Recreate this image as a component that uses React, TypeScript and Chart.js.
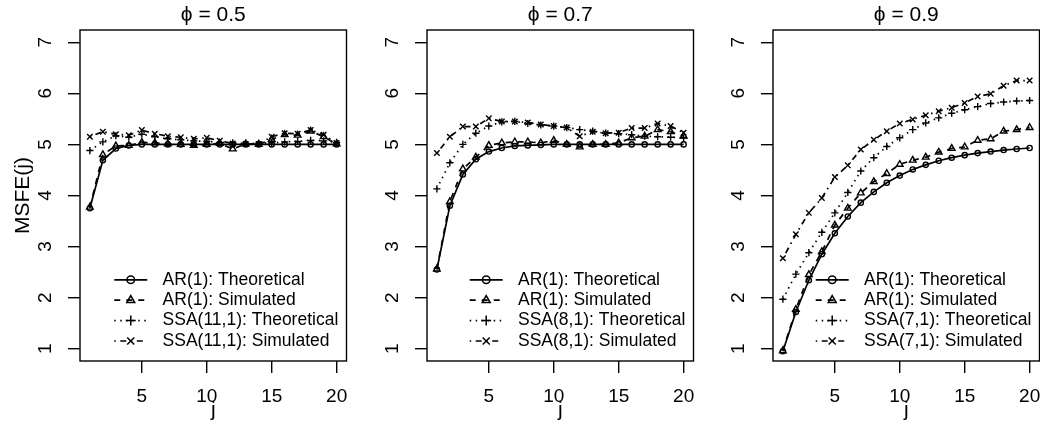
import React, { useEffect, useRef } from "react";
import { Chart, registerables } from "chart.js";

Chart.register(...registerables);

// ---------- data ----------
const J = [1, 2, 3, 4, 5, 6, 7, 8, 9, 10, 11, 12, 13, 14, 15, 16, 17, 18, 19, 20];
const X_TICKS = [5, 10, 15, 20];
const Y_TICKS = [1, 2, 3, 4, 5, 6, 7];
const TITLES = ["ϕ = 0.5", "ϕ = 0.7", "ϕ = 0.9"];
const Y_TITLE = "MSFE(j)";
const X_TITLE = "j";

const LEGEND_05 = ["AR(1): Theoretical", "AR(1): Simulated", "SSA(11,1): Theoretical", "SSA(11,1): Simulated"];
const LEGEND_07 = ["AR(1): Theoretical", "AR(1): Simulated", "SSA(8,1): Theoretical", "SSA(8,1): Simulated"];
const LEGEND_09 = ["AR(1): Theoretical", "AR(1): Simulated", "SSA(7,1): Theoretical", "SSA(7,1): Simulated"];

// phi = 0.5
const AR_THEO_05 = [3.75, 4.69, 4.92, 4.98, 5.0, 5.0, 5.0, 5.0, 5.0, 5.0, 5.0, 5.0, 5.0, 5.0, 5.0, 5.0, 5.0, 5.0, 5.0, 5.0];
const AR_SIM_05 = [3.77, 4.8, 4.97, 4.98, 5.04, 5.03, 5.01, 5.0, 4.98, 5.0, 5.02, 4.91, 5.01, 5.0, 5.1, 5.19, 5.18, 5.26, 5.15, 5.01];
const SSA_THEO_05 = [4.88, 5.05, 5.17, 5.14, 5.2, 5.15, 5.11, 5.09, 5.07, 5.06, 5.04, 5.03, 5.02, 5.02, 5.03, 5.05, 5.06, 5.08, 5.07, 5.04];
const SSA_SIM_05 = [5.15, 5.25, 5.2, 5.18, 5.28, 5.21, 5.16, 5.14, 5.11, 5.13, 5.07, 5.02, 5.01, 5.01, 5.15, 5.22, 5.21, 5.28, 5.19, 5.03];

// phi = 0.7
const AR_THEO_07 = [2.55, 3.8, 4.41, 4.71, 4.86, 4.93, 4.97, 4.98, 4.99, 5.0, 5.0, 5.0, 5.0, 5.0, 5.0, 5.0, 5.0, 5.0, 5.0, 5.0];
const AR_SIM_07 = [2.56, 3.88, 4.52, 4.75, 4.98, 5.03, 5.05, 5.05, 5.03, 5.08, 5.0, 4.95, 5.0, 5.0, 5.03, 5.13, 5.16, 5.29, 5.25, 5.16];
const SSA_THEO_07 = [4.13, 4.64, 5.0, 5.22, 5.36, 5.44, 5.45, 5.41, 5.38, 5.36, 5.33, 5.29, 5.26, 5.22, 5.21, 5.19, 5.16, 5.15, 5.14, 5.13];
const SSA_SIM_07 = [4.83, 5.15, 5.35, 5.35, 5.51, 5.45, 5.45, 5.43, 5.39, 5.36, 5.33, 5.16, 5.25, 5.22, 5.23, 5.32, 5.32, 5.41, 5.36, 5.23];

// phi = 0.9
const AR_THEO_09 = [0.95, 1.72, 2.34, 2.85, 3.26, 3.59, 3.86, 4.07, 4.25, 4.39, 4.51, 4.6, 4.68, 4.74, 4.79, 4.83, 4.86, 4.89, 4.91, 4.93];
const AR_SIM_09 = [0.96, 1.77, 2.45, 2.9, 3.42, 3.75, 4.05, 4.27, 4.43, 4.61, 4.69, 4.75, 4.85, 4.92, 4.95, 5.08, 5.11, 5.26, 5.29, 5.33];
const SSA_THEO_09 = [1.97, 2.46, 2.88, 3.28, 3.66, 4.06, 4.48, 4.74, 4.96, 5.13, 5.29, 5.42, 5.52, 5.61, 5.68, 5.74, 5.8, 5.83, 5.85, 5.86];
const SSA_SIM_09 = [2.77, 3.24, 3.66, 3.95, 4.36, 4.59, 4.9, 5.09, 5.26, 5.41, 5.49, 5.57, 5.65, 5.72, 5.81, 5.94, 5.99, 6.15, 6.25, 6.25];

// ---------- styles ----------
const FONT = "'Liberation Sans', Arial, Helvetica, sans-serif";
const AXIS_FONT_SIZE = 19;
const LAB_FONT_SIZE = 21;
const TITLE_FONT_SIZE = 21;
const LEGEND_FONT_SIZE = 17.5;
const FRAME_W = 1.4;
const LINE_W = 1.7;

const SERIES_STYLE = [
  { dash: [] as number[], point: "circle", radius: 2.6, legendRadius: 3.8 },
  { dash: [6, 6], point: "triangle", radius: 3.8, legendRadius: 4.6 },
  { dash: [1.5, 4.5], point: "cross", radius: 3.6, legendRadius: 5 },
  { dash: [1.5, 4.5, 6, 4.5], point: "crossRot", radius: 3.9, legendRadius: 5 },
];

function drawMarker(ctx: CanvasRenderingContext2D, style: string, r: number, x: number, y: number) {
  ctx.beginPath();
  if (style === "circle") {
    ctx.arc(x, y, r, 0, Math.PI * 2);
    ctx.closePath();
  } else if (style === "triangle") {
    let rad = 0;
    ctx.moveTo(x + Math.sin(rad) * r, y - Math.cos(rad) * r);
    rad += (2 * Math.PI) / 3;
    ctx.lineTo(x + Math.sin(rad) * r, y - Math.cos(rad) * r);
    rad += (2 * Math.PI) / 3;
    ctx.lineTo(x + Math.sin(rad) * r, y - Math.cos(rad) * r);
    ctx.closePath();
  } else if (style === "cross") {
    ctx.moveTo(x, y - r);
    ctx.lineTo(x, y + r);
    ctx.moveTo(x - r, y);
    ctx.lineTo(x + r, y);
  } else {
    const o = Math.cos(Math.PI / 4) * r;
    ctx.moveTo(x - o, y - o);
    ctx.lineTo(x + o, y + o);
    ctx.moveTo(x + o, y - o);
    ctx.lineTo(x - o, y + o);
  }
  ctx.stroke();
}

type PanelProps = {
  left: number;
  title: string;
  series: number[][];
  legend: string[];
  showYTitle: boolean;
};

function Panel({ left, title, series, legend, showYTitle }: PanelProps) {
  const ref = useRef<HTMLCanvasElement | null>(null);

  useEffect(() => {
    const canvas = ref.current;
    if (!canvas) return;

    const decor = {
      id: "rDecor",
      afterDraw(chart: any) {
        const { ctx, chartArea: a } = chart;
        ctx.save();
        // frame
        ctx.strokeStyle = "#000";
        ctx.lineWidth = FRAME_W;
        ctx.setLineDash([]);
        ctx.strokeRect(a.left, a.top, a.right - a.left, a.bottom - a.top);

        // rotated y tick labels
        const ys = chart.scales.y;
        ctx.fillStyle = "#000";
        ctx.font = `${AXIS_FONT_SIZE}px ${FONT}`;
        ctx.textAlign = "center";
        ctx.textBaseline = "middle";
        ys.ticks.forEach((t: any) => {
          const py = ys.getPixelForValue(t.value);
          ctx.save();
          ctx.translate(a.left - 34, py);
          ctx.rotate(-Math.PI / 2);
          ctx.fillText(String(t.value), 0, 0);
          ctx.restore();
        });

        // legend (bottom right, no box)
        ctx.font = `${LEGEND_FONT_SIZE}px ${FONT}`;
        ctx.textAlign = "left";
        const maxW = Math.max(...legend.map((l) => ctx.measureText(l).width));
        const textX = a.right - 8.2 - maxW;
        const x0 = textX - 48.3;
        const x1 = textX - 15.3;
        const mx = textX - 31.8;
        legend.forEach((lab, k) => {
          const y = a.bottom - 20 - 20.4 * (legend.length - 1 - k);
          const st = SERIES_STYLE[k];
          ctx.lineWidth = LINE_W;
          ctx.setLineDash(st.dash);
          ctx.beginPath();
          ctx.moveTo(x0, y);
          ctx.lineTo(x1, y);
          ctx.stroke();
          ctx.setLineDash([]);
          ctx.lineWidth = 1.5;
          drawMarker(ctx, st.point, st.legendRadius, mx, y);
          ctx.fillText(lab, textX, y);
        });
        ctx.restore();
      },
    };

    const axisFont = { family: FONT, size: AXIS_FONT_SIZE, weight: "normal" as const, lineHeight: 1.2 };
    const labFont = { family: FONT, size: LAB_FONT_SIZE, weight: "normal" as const, lineHeight: 1.2 };
    const titleFont = { family: FONT, size: TITLE_FONT_SIZE, weight: "normal" as const, lineHeight: 1.2 };

    const chart = new Chart(canvas, {
      type: "line",
      data: {
        datasets: series.map((vals, k) => ({
          data: J.map((j, i) => ({ x: j, y: vals[i] })),
          borderColor: "#000",
          borderWidth: LINE_W,
          borderDash: SERIES_STYLE[k].dash,
          pointStyle: SERIES_STYLE[k].point as any,
          pointRadius: SERIES_STYLE[k].radius,
          pointBorderWidth: 1.4,
          pointBorderColor: "#000",
          pointBackgroundColor: "rgba(0,0,0,0)",
          fill: false,
          tension: 0,
        })),
      },
      options: {
        animation: false,
        responsive: false,
        devicePixelRatio: 1,
        layout: { padding: { left: 0, right: 20.5, top: 0, bottom: 0 } },
        plugins: {
          legend: { display: false },
          tooltip: { enabled: false },
          title: {
            display: true,
            text: title,
            fullSize: false,
            color: "#000",
            font: titleFont,
            padding: { top: 2.4, bottom: 2.4 },
          },
        },
        scales: {
          x: {
            type: "linear",
            min: 0.24,
            max: 20.76,
            afterBuildTicks: (s: any) => {
              s.ticks = X_TICKS.map((v) => ({ value: v }));
            },
            afterFit: (s: any) => {
              s.height = 64;
            },
            grid: { drawOnChartArea: false, drawTicks: true, tickLength: 12, color: "#000", lineWidth: FRAME_W },
            border: { display: false },
            ticks: { color: "#000", font: axisFont, padding: 12, maxRotation: 0, minRotation: 0, autoSkip: false },
            title: { display: true, text: X_TITLE, color: "#000", font: labFont, padding: { top: 0, bottom: 2 } },
          },
          y: {
            type: "linear",
            min: 0.76,
            max: 7.24,
            afterBuildTicks: (s: any) => {
              s.ticks = Y_TICKS.map((v) => ({ value: v }));
            },
            afterFit: (s: any) => {
              s.width = 80;
            },
            grid: { drawOnChartArea: false, drawTicks: true, tickLength: 12, color: "#000", lineWidth: FRAME_W },
            border: { display: false },
            ticks: { display: false },
            title: { display: showYTitle, text: Y_TITLE, color: "#000", font: labFont, padding: { top: 10.5, bottom: 0 } },
          },
        },
      },
      plugins: [decor],
    });
    return () => chart.destroy();
  }, [title, series, legend, showYTitle]);

  return (
    <canvas
      ref={ref}
      width={367}
      height={425}
      style={{ position: "absolute", left, top: 0, width: 367, height: 425 }}
    />
  );
}

const PANELS = [
  { left: 0, title: TITLES[0], series: [AR_THEO_05, AR_SIM_05, SSA_THEO_05, SSA_SIM_05], legend: LEGEND_05, showYTitle: true },
  { left: 347, title: TITLES[1], series: [AR_THEO_07, AR_SIM_07, SSA_THEO_07, SSA_SIM_07], legend: LEGEND_07, showYTitle: false },
  { left: 693, title: TITLES[2], series: [AR_THEO_09, AR_SIM_09, SSA_THEO_09, SSA_SIM_09], legend: LEGEND_09, showYTitle: false },
];

export default function App() {
  return (
    <div style={{ position: "fixed", left: 0, top: 0, width: 1040, height: 425, background: "#fff", overflow: "hidden" }}>
      {PANELS.map((p, i) => (
        <Panel key={i} {...p} />
      ))}
    </div>
  );
}
